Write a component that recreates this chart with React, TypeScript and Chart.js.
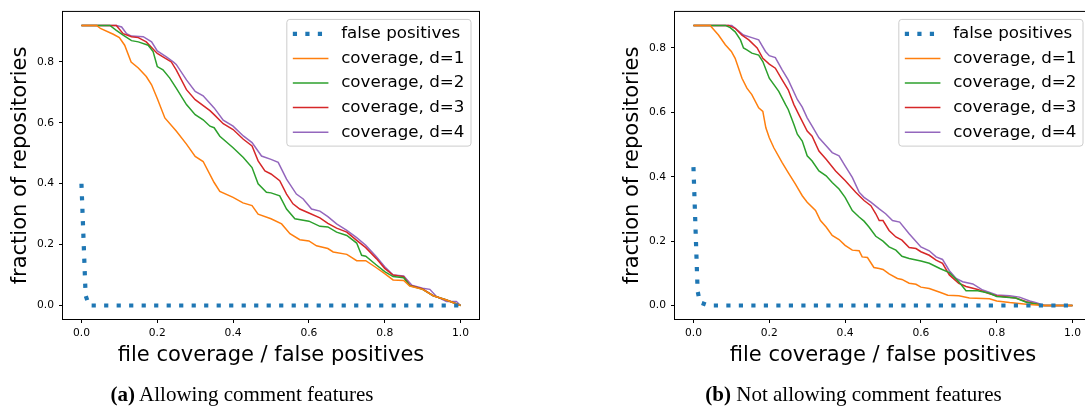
import { useEffect, useRef } from 'react';
import { Chart, registerables } from 'chart.js';

Chart.register(...registerables);

type Pt = [number, number];

const SERIES_LABELS = ['false positives', 'coverage, d=1', 'coverage, d=2', 'coverage, d=3', 'coverage, d=4'];
const SERIES_COLORS = ['#1f77b4', '#ff7f0e', '#2ca02c', '#d62728', '#9467bd'];
const X_TICKS = [0, 0.2, 0.4, 0.6, 0.8, 1.0];
const Y_TICKS = [0, 0.2, 0.4, 0.6, 0.8];
const X_TITLE = 'file coverage / false positives';
const Y_TITLE = 'fraction of repositories';
const CAPTION_TAGS = ['(a)', '(b)'];
const CAPTION_TEXTS = ['Allowing comment features', 'Not allowing comment features'];

// (a) Allowing comment features
const A_FP: Pt[] = [[0, 0.4], [0.011, 0.033], [0.02, 0], [1, 0]];
const A_D1: Pt[] = [[0, 0.92], [0.04, 0.92], [0.05, 0.91], [0.084, 0.891], [0.1, 0.88], [0.114, 0.855], [0.131, 0.8], [0.15, 0.78], [0.171, 0.752], [0.185, 0.725], [0.2, 0.68], [0.22, 0.616], [0.25, 0.573], [0.277, 0.53], [0.3, 0.49], [0.321, 0.473], [0.35, 0.404], [0.365, 0.375], [0.4, 0.355], [0.426, 0.337], [0.45, 0.328], [0.466, 0.3], [0.5, 0.285], [0.528, 0.268], [0.55, 0.236], [0.576, 0.216], [0.6, 0.212], [0.62, 0.196], [0.65, 0.187], [0.664, 0.176], [0.7, 0.168], [0.726, 0.147], [0.75, 0.147], [0.778, 0.124], [0.8, 0.105], [0.822, 0.084], [0.85, 0.082], [0.866, 0.064], [0.9, 0.053], [0.928, 0.032], [0.963, 0.018], [1, 0]];
const A_D2: Pt[] = [[0, 0.92], [0.075, 0.92], [0.092, 0.904], [0.11, 0.888], [0.132, 0.87], [0.15, 0.866], [0.176, 0.855], [0.189, 0.834], [0.2, 0.785], [0.215, 0.774], [0.233, 0.747], [0.25, 0.714], [0.277, 0.66], [0.3, 0.627], [0.321, 0.61], [0.339, 0.589], [0.35, 0.584], [0.365, 0.556], [0.4, 0.518], [0.427, 0.486], [0.45, 0.453], [0.466, 0.4], [0.488, 0.372], [0.5, 0.37], [0.523, 0.36], [0.541, 0.317], [0.563, 0.285], [0.6, 0.277], [0.629, 0.26], [0.65, 0.258], [0.673, 0.241], [0.7, 0.23], [0.726, 0.205], [0.739, 0.165], [0.75, 0.162], [0.778, 0.133], [0.8, 0.111], [0.822, 0.095], [0.85, 0.091], [0.866, 0.065], [0.9, 0.053], [0.928, 0.032], [0.963, 0.018], [1, 0]];
const A_D3: Pt[] = [[0, 0.92], [0.092, 0.92], [0.11, 0.893], [0.132, 0.883], [0.15, 0.88], [0.171, 0.866], [0.2, 0.828], [0.215, 0.817], [0.237, 0.8], [0.25, 0.774], [0.277, 0.709], [0.3, 0.676], [0.339, 0.64], [0.35, 0.627], [0.374, 0.597], [0.4, 0.578], [0.427, 0.546], [0.45, 0.524], [0.466, 0.475], [0.484, 0.442], [0.5, 0.432], [0.523, 0.41], [0.541, 0.366], [0.558, 0.334], [0.576, 0.317], [0.6, 0.304], [0.629, 0.288], [0.65, 0.27], [0.673, 0.254], [0.7, 0.241], [0.726, 0.214], [0.75, 0.19], [0.778, 0.154], [0.8, 0.122], [0.822, 0.1], [0.85, 0.095], [0.866, 0.067], [0.9, 0.054], [0.928, 0.032], [0.963, 0.018], [1, 0]];
const A_D4: Pt[] = [[0, 0.92], [0.092, 0.92], [0.106, 0.915], [0.119, 0.893], [0.132, 0.885], [0.163, 0.883], [0.185, 0.866], [0.2, 0.836], [0.224, 0.817], [0.242, 0.8], [0.25, 0.792], [0.277, 0.741], [0.3, 0.703], [0.321, 0.689], [0.35, 0.649], [0.374, 0.609], [0.4, 0.589], [0.427, 0.557], [0.45, 0.535], [0.475, 0.491], [0.5, 0.48], [0.519, 0.47], [0.541, 0.415], [0.567, 0.366], [0.585, 0.35], [0.607, 0.317], [0.629, 0.31], [0.65, 0.292], [0.673, 0.268], [0.7, 0.247], [0.726, 0.223], [0.75, 0.198], [0.778, 0.16], [0.8, 0.127], [0.822, 0.1], [0.85, 0.097], [0.871, 0.067], [0.9, 0.057], [0.919, 0.053], [0.937, 0.029], [0.963, 0.013], [0.989, 0.013], [1, 0]];

// (b) Not allowing comment features
const B_FP: Pt[] = [[0, 0.43], [0.011, 0.045], [0.017, 0.01], [0.04, 0], [1, 0]];
const B_D1: Pt[] = [[0, 0.87], [0.044, 0.87], [0.066, 0.84], [0.084, 0.81], [0.1, 0.789], [0.11, 0.768], [0.128, 0.706], [0.141, 0.675], [0.154, 0.655], [0.172, 0.614], [0.183, 0.603], [0.191, 0.552], [0.2, 0.521], [0.212, 0.49], [0.234, 0.444], [0.25, 0.413], [0.269, 0.377], [0.287, 0.341], [0.3, 0.321], [0.322, 0.295], [0.335, 0.264], [0.35, 0.244], [0.366, 0.218], [0.384, 0.205], [0.4, 0.187], [0.419, 0.172], [0.437, 0.17], [0.445, 0.151], [0.459, 0.149], [0.476, 0.118], [0.49, 0.115], [0.5, 0.112], [0.516, 0.098], [0.538, 0.084], [0.55, 0.081], [0.569, 0.069], [0.587, 0.066], [0.6, 0.057], [0.622, 0.053], [0.65, 0.041], [0.671, 0.032], [0.7, 0.03], [0.728, 0.023], [0.781, 0.021], [0.8, 0.014], [0.834, 0.009], [0.878, 0.004], [0.922, 0], [1, 0]];
const B_D2: Pt[] = [[0, 0.87], [0.084, 0.87], [0.097, 0.863], [0.11, 0.85], [0.124, 0.825], [0.132, 0.8], [0.141, 0.794], [0.154, 0.784], [0.172, 0.778], [0.183, 0.758], [0.2, 0.706], [0.225, 0.665], [0.243, 0.624], [0.25, 0.609], [0.265, 0.562], [0.274, 0.532], [0.287, 0.511], [0.3, 0.465], [0.313, 0.449], [0.331, 0.418], [0.35, 0.403], [0.366, 0.382], [0.384, 0.362], [0.4, 0.336], [0.419, 0.295], [0.437, 0.275], [0.45, 0.262], [0.463, 0.244], [0.481, 0.215], [0.5, 0.2], [0.516, 0.182], [0.534, 0.172], [0.55, 0.153], [0.569, 0.146], [0.6, 0.138], [0.622, 0.131], [0.65, 0.115], [0.675, 0.102], [0.7, 0.074], [0.719, 0.046], [0.75, 0.046], [0.781, 0.038], [0.8, 0.028], [0.85, 0.023], [0.878, 0.01], [0.904, 0.005], [0.922, 0], [1, 0]];
const B_D3: Pt[] = [[0, 0.87], [0.093, 0.87], [0.11, 0.861], [0.128, 0.84], [0.146, 0.825], [0.168, 0.8], [0.183, 0.768], [0.2, 0.75], [0.216, 0.737], [0.234, 0.701], [0.25, 0.67], [0.265, 0.624], [0.278, 0.593], [0.3, 0.542], [0.313, 0.526], [0.331, 0.48], [0.35, 0.454], [0.375, 0.418], [0.4, 0.388], [0.428, 0.352], [0.45, 0.326], [0.468, 0.31], [0.481, 0.285], [0.49, 0.264], [0.5, 0.264], [0.516, 0.233], [0.534, 0.213], [0.55, 0.203], [0.569, 0.18], [0.587, 0.177], [0.6, 0.167], [0.622, 0.156], [0.64, 0.141], [0.657, 0.131], [0.675, 0.095], [0.7, 0.069], [0.719, 0.059], [0.75, 0.05], [0.781, 0.036], [0.8, 0.03], [0.85, 0.023], [0.878, 0.012], [0.904, 0.005], [0.922, 0], [1, 0]];
const B_D4: Pt[] = [[0, 0.87], [0.101, 0.87], [0.115, 0.856], [0.132, 0.84], [0.154, 0.832], [0.172, 0.825], [0.19, 0.789], [0.2, 0.776], [0.216, 0.77], [0.234, 0.732], [0.25, 0.701], [0.274, 0.64], [0.287, 0.616], [0.3, 0.583], [0.313, 0.557], [0.331, 0.521], [0.35, 0.496], [0.366, 0.475], [0.384, 0.465], [0.4, 0.434], [0.419, 0.398], [0.437, 0.352], [0.45, 0.336], [0.468, 0.321], [0.49, 0.3], [0.507, 0.285], [0.525, 0.264], [0.544, 0.259], [0.569, 0.223], [0.6, 0.182], [0.622, 0.17], [0.64, 0.151], [0.657, 0.143], [0.675, 0.108], [0.693, 0.084], [0.71, 0.074], [0.737, 0.067], [0.763, 0.048], [0.8, 0.033], [0.834, 0.03], [0.86, 0.026], [0.887, 0.014], [0.904, 0.009], [0.926, 0], [1, 0]];

const PANEL_A: Pt[][] = [A_FP, A_D1, A_D2, A_D3, A_D4];
const PANEL_B: Pt[][] = [B_FP, B_D1, B_D2, B_D3, B_D4];

const FONT = "'DejaVu Sans', sans-serif";
const CANVAS_W = 542;
const CANVAS_H = 408;

const framePlugin = {
  id: 'frame',
  afterDraw(chart: any) {
    const { ctx, chartArea: a } = chart;
    ctx.save();
    ctx.strokeStyle = '#000';
    ctx.lineWidth = 1;
    ctx.strokeRect(a.left, a.top, a.right - a.left, a.bottom - a.top);
    ctx.restore();
  },
};

const legendPlugin = {
  id: 'boxLegend',
  afterDraw(chart: any) {
    const { ctx, chartArea: a } = chart;
    const ds = chart.data.datasets;
    ctx.save();
    ctx.font = `16.7px ${FONT}`;
    let maxW = 0;
    ds.forEach((d: any) => { maxW = Math.max(maxW, ctx.measureText(d.label).width); });
    const textOff = 54.3;
    const w = textOff + maxW + 6.6;
    const rowH = 24.6;
    const h = 14.4 * 2 + rowH * (ds.length - 1) - 0.5;
    const right = a.right - 8.5;
    const left = right - w;
    const top = a.top + 8;
    ctx.beginPath();
    ctx.roundRect(left, top, w, h, 3);
    ctx.fillStyle = 'rgba(255,255,255,0.8)';
    ctx.fill();
    ctx.strokeStyle = '#cccccc';
    ctx.lineWidth = 1;
    ctx.stroke();
    ds.forEach((d: any, i: number) => {
      const cy = top + 14.4 + i * rowH;
      ctx.beginPath();
      ctx.setLineDash(d.borderDash || []);
      ctx.lineDashOffset = 0;
      ctx.strokeStyle = d.borderColor;
      ctx.lineWidth = d.borderWidth;
      ctx.lineCap = 'butt';
      ctx.moveTo(left + 6, cy);
      ctx.lineTo(left + 41.6, cy);
      ctx.stroke();
      ctx.setLineDash([]);
      ctx.fillStyle = '#000';
      ctx.textBaseline = 'middle';
      ctx.textAlign = 'left';
      ctx.fillText(d.label, left + textOff, cy);
    });
    ctx.restore();
  },
};

function Panel({ series, left }: { series: Pt[][]; left: number }) {
  const ref = useRef<HTMLCanvasElement | null>(null);
  useEffect(() => {
    if (!ref.current) return;
    let yTop = 0;
    series.forEach((s) => s.forEach((p) => { yTop = Math.max(yTop, p[1]); }));
    const chart = new Chart(ref.current, {
      type: 'line',
      data: {
        datasets: series.map((s, i) => ({
          label: SERIES_LABELS[i],
          data: s.map((p) => ({ x: p[0], y: p[1] })),
          borderColor: SERIES_COLORS[i],
          backgroundColor: SERIES_COLORS[i],
          borderWidth: i === 0 ? 4.2 : 1.5,
          borderDash: i === 0 ? [4.2, 8.3] : [],
          borderCapStyle: 'butt',
          pointRadius: 0,
          pointHoverRadius: 0,
          tension: 0,
          fill: false,
        })) as any,
      },
      options: {
        responsive: false,
        animation: false,
        events: [],
        layout: { padding: { left: 0, top: 9.5, right: 62.5, bottom: 0 } },
        plugins: { legend: { display: false }, tooltip: { enabled: false } },
        scales: {
          x: {
            type: 'linear',
            min: -0.05,
            max: 1.05,
            afterFit: (s: any) => { s.height = 88.5; },
            afterBuildTicks: (s: any) => { s.ticks = X_TICKS.map((v) => ({ value: v })); },
            grid: { display: true, drawOnChartArea: false, drawTicks: true, tickLength: 3.5, tickColor: '#000', tickWidth: 1 },
            border: { display: false },
            ticks: {
              font: { family: FONT, size: 10.7 },
              color: '#000',
              padding: 3.5,
              maxRotation: 0,
              autoSkip: false,
              callback: (v: any) => Number(v).toFixed(1),
            },
            title: {
              display: true,
              text: X_TITLE,
              color: '#000',
              font: { family: FONT, size: 21, lineHeight: 1.2 },
              padding: { top: 0, bottom: 39.5 },
            },
          },
          y: {
            type: 'linear',
            min: -0.05 * yTop,
            max: 1.05 * yTop,
            afterFit: (s: any) => { s.width = 62.5; },
            afterBuildTicks: (s: any) => { s.ticks = Y_TICKS.map((v) => ({ value: v })); },
            grid: { display: true, drawOnChartArea: false, drawTicks: true, tickLength: 3.5, tickColor: '#000', tickWidth: 1 },
            border: { display: false },
            ticks: {
              font: { family: FONT, size: 10.7 },
              color: '#000',
              padding: 5,
              autoSkip: false,
              callback: (v: any) => Number(v).toFixed(1),
            },
            title: {
              display: true,
              text: Y_TITLE,
              color: '#000',
              font: { family: FONT, size: 21, lineHeight: 1.2 },
              padding: { top: 7.6, bottom: 0 },
            },
          },
        },
      },
      plugins: [framePlugin, legendPlugin],
    });
    return () => chart.destroy();
  }, [series]);
  return (
    <canvas
      ref={ref}
      width={CANVAS_W}
      height={CANVAS_H}
      style={{ position: 'absolute', left, top: 0, width: CANVAS_W, height: CANVAS_H }}
    />
  );
}

function Caption({ tag, text, cx }: { tag: string; text: string; cx: number }) {
  return (
    <div
      style={{
        position: 'absolute',
        left: cx,
        top: 394,
        transform: 'translate(-50%, -50%)',
        whiteSpace: 'nowrap',
        fontFamily: "'Liberation Serif', serif",
        fontSize: 21,
        lineHeight: '21px',
        color: '#000',
      }}
    >
      <b>{tag}</b> {text}
    </div>
  );
}

export default function App() {
  return (
    <div style={{ position: 'absolute', left: 0, top: 0, width: 1085, height: 408, overflow: 'hidden', background: '#fff' }}>
      <Panel series={PANEL_A} left={0} />
      <Panel series={PANEL_B} left={612} />
      <Caption tag={CAPTION_TAGS[0]} text={CAPTION_TEXTS[0]} cx={242} />
      <Caption tag={CAPTION_TAGS[1]} text={CAPTION_TEXTS[1]} cx={853.5} />
    </div>
  );
}
